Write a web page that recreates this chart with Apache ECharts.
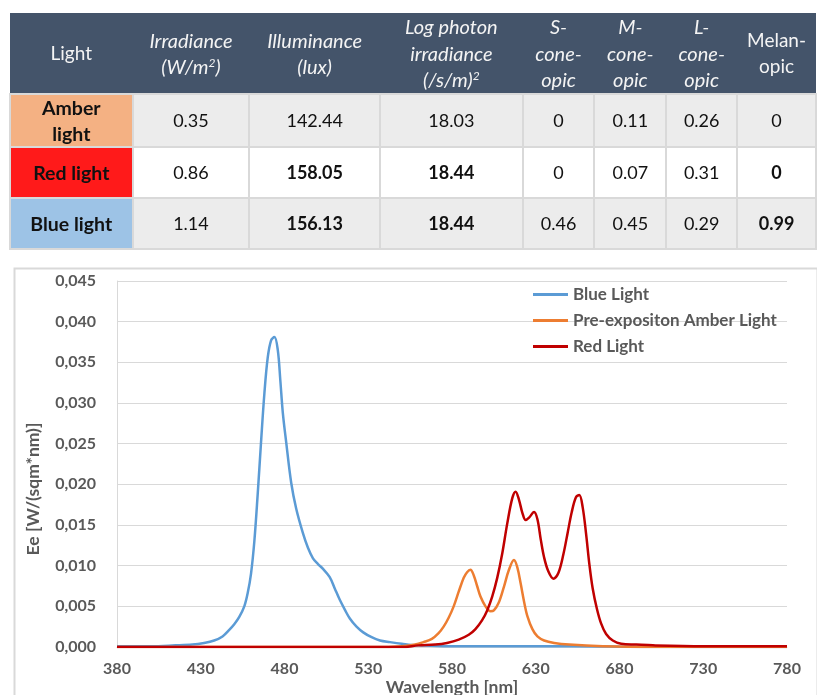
<!DOCTYPE html>
<html>
<head>
<meta charset="utf-8">
<script src="https://cdn.jsdelivr.net/npm/echarts@6/dist/echarts.min.js"></script>
<style>
  html, body { margin: 0; padding: 0; background: #ffffff; }
  body { width: 817px; height: 695px; position: relative; overflow: hidden; font-family: Lato, "Open Sans", sans-serif; }
  #chart { position: absolute; left: 0; top: 0; width: 817px; height: 695px; }
  #tbl { position: absolute; left: 9px; top: 13px; border-collapse: collapse; table-layout: fixed; z-index: 2; }
  #tbl th, #tbl td { padding: 0; text-align: center; vertical-align: middle; }
  #tbl th { background: #44546a; color: #f4f4f4; font-weight: normal; font-style: italic; font-size: 20px; line-height: 26.5px; height: 80px; }
  #tbl th.plain { font-style: normal; font-size: 19px; }
  #tbl td { font-size: 18px; line-height: 27px; color: #111; border: 2px solid #d9d9d9; }
  #tbl tr.shade td { background: #ececec; }
  #tbl tr.white td { background: #ffffff; }
  #tbl td.b { font-weight: bold; }
  #tbl td.name { font-weight: bold; font-size: 19.5px; line-height: 25.5px; }
  sup { font-size: 12px; line-height: 0; vertical-align: 7px; }
</style>
</head>
<body>
<table id="tbl"></table>
<div id="chart"></div>
<script>
// ---- table content ----
const tableHeaders = [
  { html: 'Light', plain: true },
  { html: 'Irradiance<br>(W/m<sup>2</sup>)' },
  { html: 'Illuminance<br>(lux)' },
  { html: 'Log photon<br>irradiance<br>(/s/m)<sup>2</sup>' },
  { html: 'S-<br>cone-<br>opic' },
  { html: 'M-<br>cone-<br>opic' },
  { html: 'L-<br>cone-<br>opic' },
  { html: 'Melan-<br>opic', plain: true }
];
const columnWidths = [123, 117, 131, 143, 72, 72, 71, 79];
const rowNames = ['Amber<br>light', 'Red light', 'Blue light'];
const rowColors = ['#f4b183', '#ff1a1a', '#9dc3e6'];
const rowHeights = [52, 51, 51];
const amberRow = ['0.35', '142.44', '18.03', '0', '0.11', '0.26', '0'];
const redRow   = ['0.86', '158.05', '18.44', '0', '0.07', '0.31', '0'];
const blueRow  = ['1.14', '156.13', '18.44', '0.46', '0.45', '0.29', '0.99'];
const amberBold = [];
const redBold   = [1, 2, 6];
const blueBold  = [1, 2, 6];

// ---- spectra: wavelength (nm) and irradiance E_e (W/(sqm*nm)) ----
const blueNm = [380, 400, 415, 425, 432, 438, 443, 447, 450, 453, 456, 458, 460, 462, 464, 466, 468, 470, 472, 474, 476, 477.5, 479, 481, 484, 487, 491, 494, 497, 500, 503, 507, 510, 513, 516, 519, 523, 527, 532, 537, 543, 550, 559, 575, 600, 650, 700, 780];
const blueEe = [0.0001, 0.0001, 0.0002, 0.0003, 0.0005, 0.0008, 0.0013, 0.0021, 0.0028, 0.0037, 0.0050, 0.0066, 0.0090, 0.0130, 0.0188, 0.0252, 0.0312, 0.0356, 0.0377, 0.0381, 0.0365, 0.0328, 0.0288, 0.0252, 0.0202, 0.0170, 0.0140, 0.0122, 0.0109, 0.0102, 0.0096, 0.0086, 0.0072, 0.0058, 0.0046, 0.0035, 0.0025, 0.0018, 0.0012, 0.0008, 0.0006, 0.0004, 0.0002, 0.0001, 0.0001, 0.0001, 0.0000, 0.0000];

const amberNm = [380, 540, 550, 558, 563, 568, 572, 575, 578, 581, 584, 587, 589, 591, 593, 595, 597, 600, 603, 605, 608, 611, 614, 617, 619, 621, 623, 625, 628, 631, 635, 641, 650, 670, 700, 780];
const amberEe = [0, 0.0000, 0.0001, 0.0003, 0.0006, 0.0010, 0.0017, 0.0025, 0.0036, 0.0050, 0.0068, 0.0085, 0.0092, 0.0095, 0.0088, 0.0075, 0.0062, 0.0050, 0.0044, 0.0045, 0.0055, 0.0074, 0.0095, 0.0107, 0.0098, 0.0078, 0.0056, 0.0038, 0.0022, 0.0013, 0.0008, 0.0005, 0.0003, 0.0001, 0.0000, 0];

const redNm = [380, 550, 560, 570, 577, 584, 590, 594, 598, 601, 604, 607, 610, 613, 616, 618, 620, 622, 624, 626, 629, 631, 633, 635, 637.5, 640.5, 643.5, 646.5, 649, 651.5, 654, 656, 658, 660, 662, 664, 666.5, 669, 672, 676, 681, 690, 700, 730, 780];
const redEe = [0, 0.0000, 0.0002, 0.0003, 0.0005, 0.0009, 0.0015, 0.0022, 0.0033, 0.0045, 0.0062, 0.0085, 0.0115, 0.0152, 0.0183, 0.0191, 0.0181, 0.0165, 0.0156, 0.0159, 0.0166, 0.0157, 0.0132, 0.0110, 0.0093, 0.0084, 0.0091, 0.0114, 0.0140, 0.0166, 0.0184, 0.0187, 0.0172, 0.0140, 0.0102, 0.0072, 0.0047, 0.0029, 0.0016, 0.0008, 0.0004, 0.0003, 0.0002, 0.0001, 0.0001];

const seriesNames = ['Blue Light', 'Pre-expositon Amber Light', 'Red Light'];
const seriesColors = ['#5b9bd5', '#ed7d31', '#c00000'];

// ---- build the table ----
(function buildTable() {
  const tbl = document.getElementById('tbl');
  const cg = document.createElement('colgroup');
  columnWidths.forEach(w => { const c = document.createElement('col'); c.style.width = w + 'px'; cg.appendChild(c); });
  tbl.appendChild(cg);
  const hr = document.createElement('tr');
  tableHeaders.forEach(h => {
    const th = document.createElement('th');
    th.innerHTML = h.html;
    if (h.plain) th.className = 'plain';
    hr.appendChild(th);
  });
  tbl.appendChild(hr);
  const rows = [amberRow, redRow, blueRow];
  const bolds = [amberBold, redBold, blueBold];
  const rowClass = ['shade', 'white', 'shade'];
  rows.forEach((vals, r) => {
    const tr = document.createElement('tr');
    tr.className = rowClass[r];
    tr.style.height = rowHeights[r] + 'px';
    const nameCell = document.createElement('td');
    nameCell.className = 'name';
    nameCell.innerHTML = rowNames[r];
    nameCell.style.background = rowColors[r];
    tr.appendChild(nameCell);
    vals.forEach((v, i) => {
      const td = document.createElement('td');
      td.textContent = v;
      if (bolds[r].indexOf(i) >= 0) td.className = 'b';
      tr.appendChild(td);
    });
    tbl.appendChild(tr);
  });
})();

// ---- spectrum chart ----
const chart = echarts.init(document.getElementById('chart'), null, { renderer: 'canvas' });
const pairs = (xs, ys) => xs.map((x, i) => [x, ys[i]]);
const spectra = [pairs(blueNm, blueEe), pairs(amberNm, amberEe), pairs(redNm, redEe)];
const labelText = { color: '#595959', fontFamily: 'Lato', fontWeight: 'bold', fontSize: 16 };
const nameText = { color: '#595959', fontFamily: 'Lato', fontWeight: 'bold', fontSize: 17.5 };

chart.setOption({
  animation: false,
  graphic: [{
    type: 'rect', left: 12, top: 266, silent: true,
    shape: { width: 803, height: 440 },
    style: { fill: 'none', stroke: '#d9d9d9', lineWidth: 2 }
  }],
  grid: { left: 117, top: 281, width: 670, height: 366, containLabel: false, outerBoundsMode: 'none' },
  legend: {
    orient: 'vertical', left: 533, top: 286, padding: 0,
    icon: 'path://M0,0L35,0L35,3L0,3Z', symbolKeepAspect: false,
    itemWidth: 35, itemHeight: 3, itemGap: 9,
    data: seriesNames,
    textStyle: { color: '#595959', fontFamily: 'Lato', fontWeight: 'bold', fontSize: 17 }
  },
  xAxis: {
    type: 'value', min: 380, max: 780, interval: 50,
    name: 'Wavelength [nm]', nameLocation: 'middle', nameGap: 31, nameMoveOverlap: false,
    nameTextStyle: nameText,
    axisLine: { show: true, lineStyle: { color: '#d9d9d9', width: 1 } },
    axisTick: { show: false },
    splitLine: { show: false },
    axisLabel: Object.assign({ margin: 14 }, labelText)
  },
  yAxis: {
    type: 'value', min: 0, max: 0.045, interval: 0.005,
    name: 'Ee [W/(sqm*nm)]', nameLocation: 'middle', nameGap: 75, nameRotate: 90, nameMoveOverlap: false,
    nameTextStyle: Object.assign({ padding: [0, 50, 0, 0] }, nameText),
    axisLine: { show: true, lineStyle: { color: '#d9d9d9', width: 1 } },
    axisTick: { show: false },
    splitLine: { lineStyle: { color: '#d9d9d9', width: 1 } },
    axisLabel: Object.assign({ margin: 21, formatter: v => v.toFixed(3).replace('.', ',') }, labelText)
  },
  series: seriesNames.map((name, i) => ({
    name: name, type: 'line', data: spectra[i],
    symbol: 'none', smooth: 0.35,
    lineStyle: { color: seriesColors[i], width: 2.5 },
    itemStyle: { color: seriesColors[i] },
    z: 2 + i
  }))
});
</script>
</body>
</html>
